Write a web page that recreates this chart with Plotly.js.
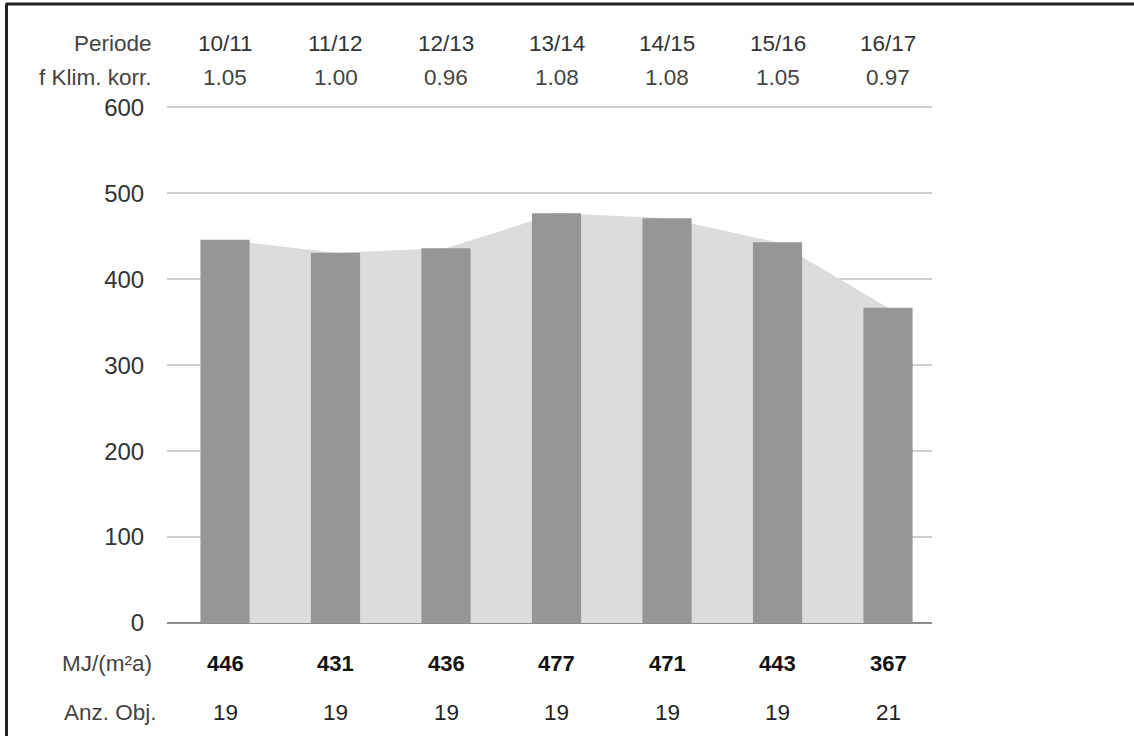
<!DOCTYPE html>
<html>
<head>
<meta charset="utf-8">
<script src="https://cdn.plot.ly/plotly-3.0.1.min.js"></script>
<style>html,body{margin:0;padding:0;background:#fff;}#chart{width:1134px;height:736px;}</style>
</head>
<body>
<div id="chart"></div>
<script>
const periods = ['10/11','11/12','12/13','13/14','14/15','15/16','16/17'];
const klimFactors = ['1.05','1.00','0.96','1.08','1.08','1.05','0.97'];
const energyValues = [446, 431, 436, 477, 471, 443, 367];
const objectCounts = [19, 19, 19, 19, 19, 19, 21];
const rowLabels = ['Periode', 'f Klim. korr.', 'MJ/(m²a)', 'Anz. Obj.'];
const yTicks = [0, 100, 200, 300, 400, 500, 600];

const W = 1134, H = 736;
const L = 167, R = 932, B = 622.7;
const pxPerUnit = (622.7 - 107) / 600;
const YR = [0, 604];
const T = B - YR[1] * pxPerUnit;
const pw = R - L, ph = B - T;
const px = v => (v - L) / pw;
const py = v => (B - v) / ph;

const FONT = 'Liberation Sans, Arial, sans-serif';
const FS = 22.5;
const XR = [-0.525, 6.398];

const traces = [
  {
    type: 'scatter', mode: 'lines', x: periods, y: energyValues, xaxis: 'x', yaxis: 'y',
    fill: 'tozeroy', fillcolor: '#dcdcdc', line: {width: 0, color: '#dcdcdc'},
    hoverinfo: 'skip', showlegend: false
  },
  {
    type: 'bar', x: periods, y: energyValues, width: 0.445, xaxis: 'x2', yaxis: 'y2',
    marker: {color: '#969696', line: {width: 0}}, showlegend: false
  }
];

const annotations = [];
const rows = [
  {label: rowLabels[0], vals: periods, y: 43, bold: false, color: '#333', lx: 154},
  {label: rowLabels[1], vals: klimFactors, y: 77, bold: false, color: '#444', lx: 154},
  {label: rowLabels[2], vals: energyValues.map(String), y: 663, bold: true, color: '#111', lx: 154},
  {label: rowLabels[3], vals: objectCounts.map(String), y: 712, bold: false, color: '#222', lx: 159}
];
rows.forEach(r => {
  annotations.push({
    xref: 'paper', yref: 'paper', x: px(r.lx), y: py(r.y), xanchor: 'right', yanchor: 'middle',
    text: r.label, showarrow: false, font: {family: FONT, size: FS, color: '#444'}
  });
  r.vals.forEach((v, i) => {
    annotations.push({
      xref: 'x', yref: 'paper', x: periods[i], y: py(r.y), xanchor: 'center', yanchor: 'middle',
      text: r.bold ? '<b>' + v + '</b>' : v, showarrow: false,
      font: {family: FONT, size: r.bold ? 22 : FS, color: r.color}
    });
  });
});

const shapes = [
  {type: 'line', xref: 'paper', yref: 'paper', x0: px(6), x1: px(1134), y0: py(3.5), y1: py(3.5), line: {color: '#222', width: 3}},
  {type: 'line', xref: 'paper', yref: 'paper', x0: px(6.5), x1: px(6.5), y0: py(3), y1: py(736), line: {color: '#222', width: 3}}
];

const layout = {
  width: W, height: H,
  margin: {l: L, r: W - R, t: T, b: H - B},
  paper_bgcolor: '#fff', plot_bgcolor: '#fff',
  showlegend: false,
  xaxis: {
    type: 'category', range: XR, showticklabels: false,
    showgrid: false, zeroline: false, showline: false, fixedrange: true
  },
  yaxis: {
    range: YR, tickvals: yTicks,
    showgrid: true, gridcolor: '#d0d0d0', gridwidth: 2,
    zeroline: true, zerolinecolor: '#8c8c8c', zerolinewidth: 2,
    showline: false, ticks: 'outside', ticklen: 17, tickcolor: 'rgba(0,0,0,0)',
    tickfont: {family: FONT, size: 24, color: '#333'}, fixedrange: true
  },
  xaxis2: {
    type: 'category', range: XR, overlaying: 'x', showticklabels: false,
    showgrid: false, zeroline: false, showline: false, fixedrange: true
  },
  yaxis2: {
    range: YR, overlaying: 'y', showticklabels: false,
    showgrid: false, zeroline: false, showline: false, fixedrange: true
  },
  annotations: annotations,
  shapes: shapes
};

Plotly.newPlot('chart', traces, layout, {displayModeBar: false, staticPlot: true});
</script>
</body>
</html>
